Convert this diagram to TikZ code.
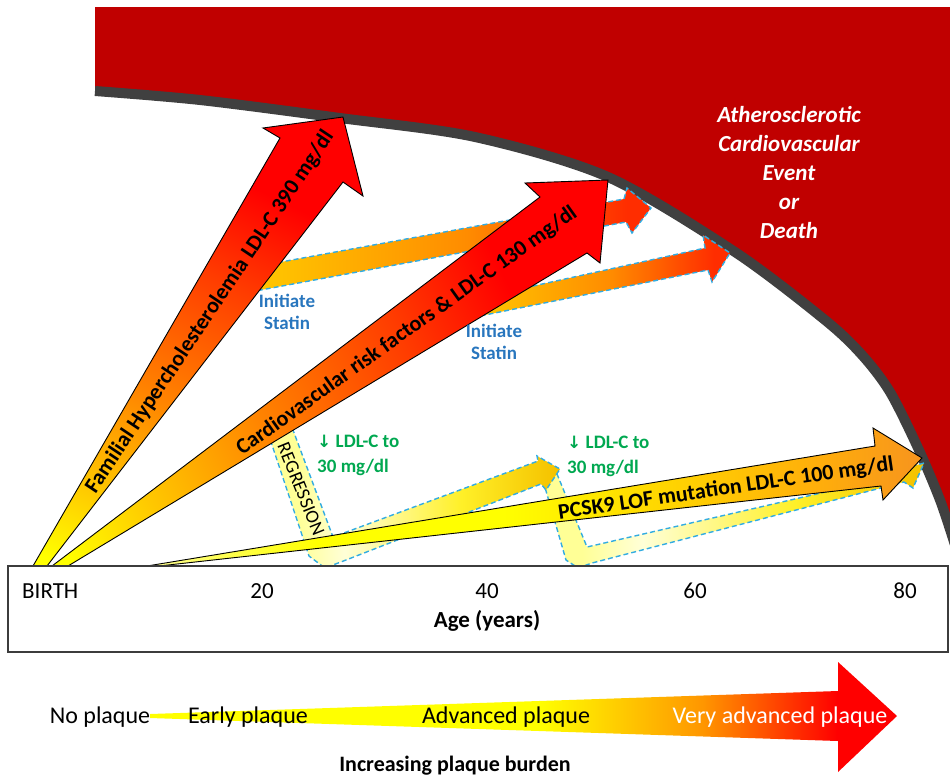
\documentclass[tikz,border=0pt]{standalone}
\usepackage{fontspec}
\setmainfont{Carlito}
\newfontfamily\arrowfont{DejaVu Sans}
\usepackage{xcolor}
\usetikzlibrary{positioning}
\definecolor{redzone}{RGB}{192,0,0}
\definecolor{rimgray}{RGB}{64,64,64}
\definecolor{boxgray}{RGB}{60,60,60}
\definecolor{statinblue}{RGB}{40,118,190}
\definecolor{ldlgreen}{RGB}{0,168,80}
\definecolor{dashblue}{RGB}{50,172,225}
\definecolor{hY}{RGB}{255,255,0}
\definecolor{hGold}{RGB}{255,200,0}
\definecolor{hOrange}{RGB}{255,130,0}
\definecolor{hRedOr}{RGB}{255,60,0}
\definecolor{hRed}{RGB}{255,0,0}
\definecolor{paleY}{RGB}{255,255,150}
\definecolor{pGold}{RGB}{255,215,0}
\definecolor{pAmber}{RGB}{255,175,10}
\definecolor{deepOr}{RGB}{247,148,30}
\definecolor{sGold}{RGB}{255,195,0}
\definecolor{sOrange}{RGB}{255,140,0}
\definecolor{sRed}{RGB}{255,45,0}
\definecolor{rPale}{RGB}{255,255,150}
\definecolor{rWhite}{RGB}{255,255,215}
\definecolor{rYel}{RGB}{255,240,40}
\definecolor{rGold}{RGB}{245,195,0}
\definecolor{qOrange}{RGB}{255,150,0}
\pgfdeclarehorizontalshading{hotshade}{100bp}{color(0bp)=(hY); color(18bp)=(hY); color(28bp)=(hGold); color(42bp)=(hOrange); color(58bp)=(hRedOr); color(70bp)=(hRed); color(100bp)=(hRed)}
\pgfdeclarehorizontalshading{pcskshade}{100bp}{color(0bp)=(paleY); color(25bp)=(paleY); color(36bp)=(hY); color(48bp)=(hY); color(58bp)=(pGold); color(68bp)=(pAmber); color(75bp)=(deepOr); color(100bp)=(deepOr)}
\pgfdeclarehorizontalshading{statinshade}{100bp}{color(0bp)=(sGold); color(28bp)=(sGold); color(52bp)=(sOrange); color(72bp)=(sRed); color(100bp)=(sRed)}
\pgfdeclarehorizontalshading{regshade}{100bp}{color(0bp)=(rPale); color(30bp)=(rPale); color(38bp)=(rWhite); color(58bp)=(rYel); color(74bp)=(rGold); color(100bp)=(rGold)}
\pgfdeclarehorizontalshading{plaqueshade}{100bp}{color(0bp)=(hY); color(51bp)=(hY); color(62bp)=(qOrange); color(71bp)=(hRed); color(100bp)=(hRed)}

\begin{document}
\begin{tikzpicture}[x=1pt,y=-1pt,
  mainarrow/.style={draw=black,line width=0.9pt,line join=miter},
  treatarrow/.style={draw=dashblue,line width=1.4pt,dash pattern=on 5pt off 3pt},
  armlabel/.style={font=\fontsize{22}{26}\selectfont\bfseries,inner sep=0pt},
  statinlbl/.style={font=\fontsize{19}{22}\selectfont\bfseries,text=statinblue,align=center,inner sep=0pt},
  ldllbl/.style={font=\fontsize{19}{25}\selectfont\bfseries,text=ldlgreen,align=left,anchor=west,inner sep=0pt},
  agelbl/.style={font=\fontsize{23}{27}\selectfont,anchor=base,inner sep=0pt},
  plaquelbl/.style={font=\fontsize{24}{28}\selectfont,anchor=base,inner sep=0pt}]
\useasboundingbox (0,0) rectangle (950,774);

% event zone
\fill[redzone] (95,7) -- (960,7) -- (960,545) -- plot[smooth] coordinates {(955,545) (940,500) (918,448) (890,392) (862,355) (825,320) (735,252) (608,177) (475,137) (340,118) (200,100) (95,91)} -- cycle;
\draw[rimgray,line width=10pt] plot[smooth] coordinates {(95,91) (200,100) (340,118) (475,137) (608,177) (735,252) (825,320) (862,355) (890,392) (918,448) (940,500) (955,545)};

% statin and regression arrows
\shadedraw[treatarrow,shading=statinshade] (270,264) -- (624,199) -- (627,188) -- (651,208) -- (632,233) -- (626,222) -- (250,292) -- cycle;
\shadedraw[treatarrow,shading=statinshade] (470,300) -- (705,248) -- (703,235) -- (730,253) -- (712,282) -- (708,270) -- (470,318) -- cycle;
\shadedraw[treatarrow,shading=regshade] (544,484) -- (557,474) -- (587,547) -- (903,474) -- (906,468) -- (924,463) -- (913,488) -- (904,482) -- (592,563) -- (578,568) -- (566,560) -- cycle;
\shadedraw[treatarrow,shading=regshade] (269,436) -- (290,422) -- (333,537) -- (538,461) -- (537,456) -- (560,469) -- (546,490) -- (541,484) -- (346,560) -- (325,568) -- (309,556) -- cycle;

% risk arrows
\shadedraw[mainarrow,shading=pcskshade] (147,566) -- (875,446) -- (873,428) -- (922,458) -- (883,500) -- (881,486) -- (150,567) -- cycle;
\shadedraw[mainarrow,shading=hotshade,shading angle=26] (52,566) -- (540,197) -- (525,183) -- (608,180) -- (600,263) -- (587,253) -- (68,566) -- cycle;
\shadedraw[mainarrow,shading=hotshade,shading angle=63.5] (33,566) -- (280,138) -- (263,128) -- (343,117) -- (363,196) -- (343,182) -- (47,566) -- cycle;

\node[armlabel,rotate=56.3] (fhtext) at (210,312) {Familial Hypercholesterolemia LDL-C 390 mg/dl};
\node[armlabel,rotate=35.5] (cvtext) at (407,331) {Cardiovascular risk factors \& LDL-C 130 mg/dl};
\node[armlabel,rotate=8.3] (pcsktext) at (726,489) {PCSK9 LOF mutation LDL-C 100 mg/dl};
\node[font=\fontsize{19}{22}\selectfont,rotate=-68,inner sep=0pt] (regtext) at (301,489) {REGRESSION};

\node[statinlbl] (statinA) at (287,312) {Initiate\\Statin};
\node[statinlbl] (statinB) at (494,342) {Initiate\\Statin};
\node[ldllbl] (ldlA) at (317,455) {{\arrowfont\fontsize{17}{20}\selectfont ↓} LDL-C to\\ 30 mg/dl};
\node[ldllbl] (ldlB) at (567,456) {{\arrowfont\fontsize{17}{20}\selectfont ↓} LDL-C to\\ 30 mg/dl};

\node[font=\fontsize{23}{29}\selectfont\bfseries\itshape,text=white,align=center] (event) at (789,173) {Atherosclerotic\\Cardiovascular\\Event\\or\\Death};

% age axis
\draw[boxgray,line width=1.3pt,fill=white] (8,566) rectangle (948,652);
\node[agelbl,anchor=base west] (birth) at (22,598) {BIRTH};
\foreach \yr/\xx in {20/262,40/487,60/695,80/905}
  \node[agelbl] (age\yr) at (\xx,598) {\yr};
\node[agelbl,font=\fontsize{23}{27}\selectfont\bfseries] (agetitle) at (487,627) {Age (years)};

% plaque burden
\shade[shading=plaqueshade] (150,714) -- (838,691) -- (838,662) -- (897,716) -- (838,772) -- (838,741) -- (150,718) -- cycle;
\node[plaquelbl] (noplq) at (100,723) {No plaque};
\node[plaquelbl] (earlyplq) at (248,723) {Early plaque};
\node[plaquelbl] (advplq) at (506,723) {Advanced plaque};
\node[plaquelbl,text=white] (veryplq) at (780,723) {Very advanced plaque};
\node[plaquelbl,font=\fontsize{22}{26}\selectfont\bfseries] (burden) at (455,771) {Increasing plaque burden};
\end{tikzpicture}
\end{document}
